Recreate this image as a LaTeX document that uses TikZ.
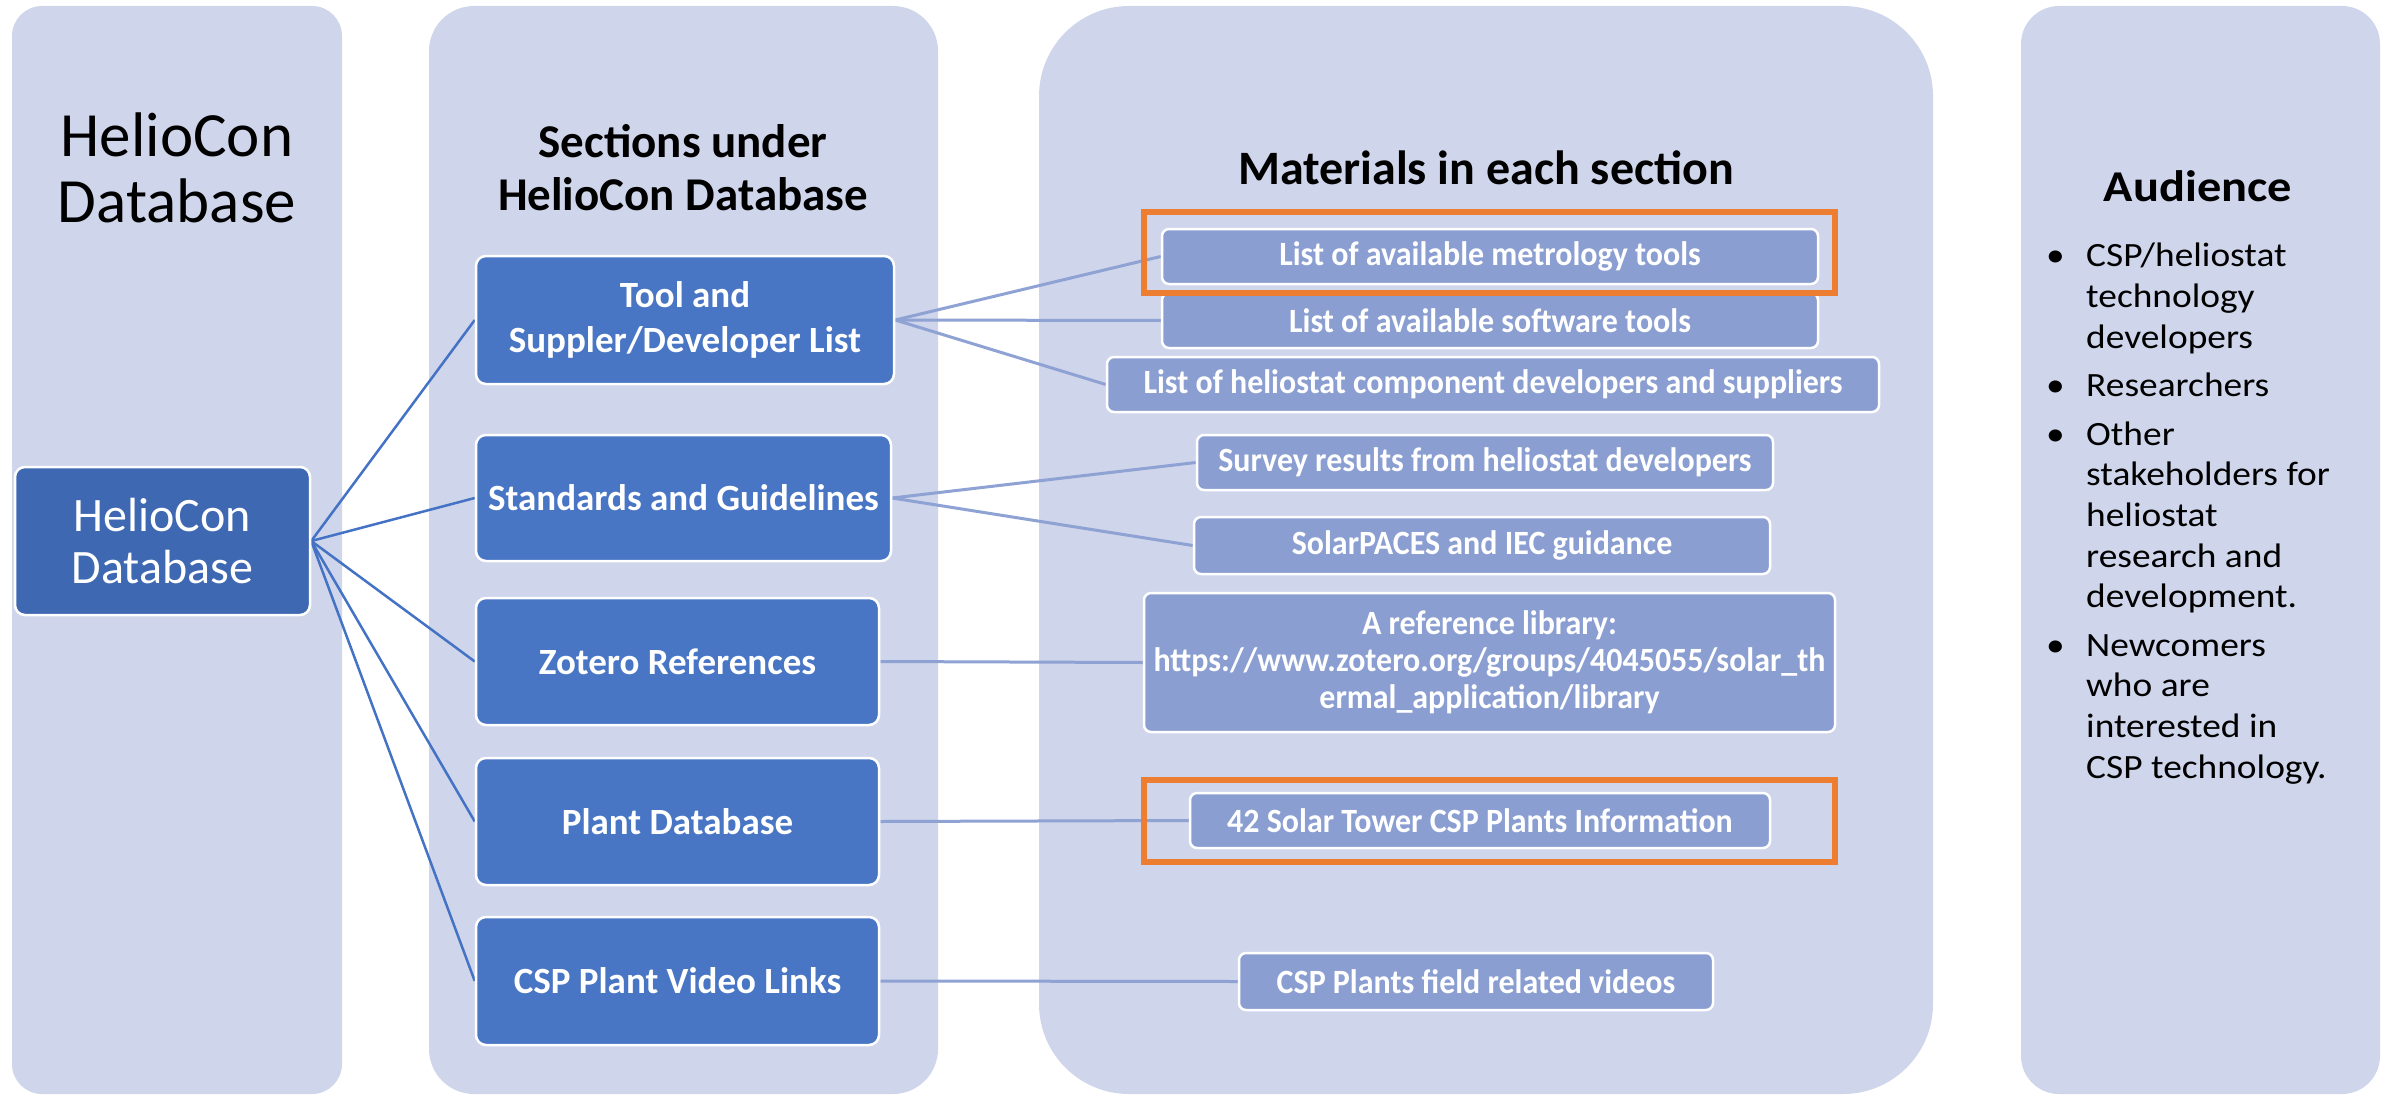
\documentclass[tikz,border=0pt]{standalone}
\usepackage{fontspec}
\setmainfont{Carlito}
\newfontfamily\narrowfont[FakeStretch=0.94]{Carlito}
\newfontfamily\widefont[FakeStretch=1.1]{Carlito}
\definecolor{panelbg}{RGB}{207,213,234}
\definecolor{secblue}{RGB}{72,117,196}
\definecolor{hcblue}{RGB}{62,104,178}
\definecolor{matblue}{RGB}{138,158,209}
\definecolor{linedark}{RGB}{68,114,196}
\definecolor{linelight}{RGB}{143,162,212}
\definecolor{hlorange}{RGB}{237,125,49}
\pgfdeclarelayer{panels}
\pgfdeclarelayer{conn}
\pgfsetlayers{panels,conn,main}
\begin{document}
\begin{tikzpicture}[x=1pt,y=-1pt,
  panel/.style={fill=panelbg, draw=none},
  secbox/.style={draw=white, line width=2.5pt, fill=secblue, rounded corners=10pt,
    text=white, align=center, inner sep=0pt,
    font=\bfseries\fontsize{37}{45}\selectfont},
  hcbox/.style={draw=white, line width=2.5pt, fill=hcblue, rounded corners=10pt,
    text=white, align=center, inner sep=0pt,
    font=\fontsize{48}{52}\selectfont},
  matbox/.style={draw=white, line width=2.5pt, fill=matblue, rounded corners=7pt,
    text=white, align=center, inner sep=0pt,
    font=\narrowfont\bfseries\fontsize{34}{37}\selectfont},
  hlbox/.style={draw=hlorange, line width=6pt, fill=none},
  dline/.style={draw=linedark, line width=2.5pt},
  lline/.style={draw=linelight, line width=3pt},
  ttl/.style={align=center, inner sep=0pt, text=black}
]
\useasboundingbox (0,0) rectangle (2392,1097);

% panels
\begin{pgfonlayer}{panels}
\fill[panel, rounded corners=30pt] (12,6) rectangle (342,1094);
\fill[panel, rounded corners=45pt] (429,6) rectangle (938,1094);
\fill[panel, rounded corners=90pt] (1039,6) rectangle (1933,1094);
\fill[panel, rounded corners=38pt] (2021,6) rectangle (2380,1094);
\end{pgfonlayer}

% titles
\node[ttl, font=\fontsize{63}{66}\selectfont] (t1) at (177,168) {HelioCon\\Database};
\node[ttl, font=\bfseries\fontsize{47}{53}\selectfont] (t2) at (683,168) {Sections under\\HelioCon Database};
\node[ttl, font=\bfseries\fontsize{48}{52}\selectfont] (t3) at (1486,168) {Materials in each section};
\node[ttl, font=\widefont\bfseries\fontsize{44}{48}\selectfont] (t4) at (2198,186) {Audience};

% audience list
\node[anchor=north west, align=left, inner sep=0pt, font=\widefont\fontsize{34}{40.6}\selectfont] (aud) at (2046,243)
{\makebox[40pt][l]{•}CSP/heliostat\\
 \makebox[40pt][l]{}technology\\
 \makebox[40pt][l]{}developers\\[8pt]
 \makebox[40pt][l]{•}Researchers\\[8pt]
 \makebox[40pt][l]{•}Other\\
 \makebox[40pt][l]{}stakeholders for\\
 \makebox[40pt][l]{}heliostat\\
 \makebox[40pt][l]{}research and\\
 \makebox[40pt][l]{}development.\\[8pt]
 \makebox[40pt][l]{•}Newcomers\\
 \makebox[40pt][l]{}who are\\
 \makebox[40pt][l]{}interested in\\
 \makebox[40pt][l]{}CSP technology.};

% root box
\node[hcbox, minimum width=295pt, minimum height=148pt] (root) at (162.5,541) {HelioCon\\Database};

% section boxes
\node[secbox, minimum width=418pt, minimum height=128pt] (tool) at (685,320) {Tool and\\Suppler/Developer List};
\node[secbox, minimum width=415pt, minimum height=126pt] (std) at (683.5,498) {Standards and Guidelines};
\node[secbox, minimum width=403pt, minimum height=127pt] (zot) at (677.5,661.5) {Zotero References};
\node[secbox, minimum width=403pt, minimum height=127pt] (plant) at (677.5,821.5) {Plant Database};
\node[secbox, minimum width=403pt, minimum height=128pt] (video) at (677.5,981) {CSP Plant Video Links};

% material boxes
\node[matbox, minimum width=656pt, minimum height=55pt] (metro) at (1490,256.5) {List of available metrology tools};
\node[matbox, minimum width=656pt, minimum height=55pt] (soft) at (1490,320.5) {List of available software tools};
\node[matbox, minimum width=772pt, minimum height=55pt] (comp) at (1493,384.5) {List of heliostat component developers and suppliers};
\node[matbox, minimum width=576pt, minimum height=55pt] (survey) at (1485,462.5) {Survey results from heliostat developers};
\node[matbox, minimum width=576pt, minimum height=57pt] (iec) at (1482,545.5) {SolarPACES and IEC guidance};
\node[matbox, minimum width=691pt, minimum height=139pt] (lib) at (1489.5,662.5) {A reference library:\\https://www.zotero.org/groups/4045055/solar\_th\\ermal\_application/library};
\node[matbox, minimum width=580pt, minimum height=55pt] (tower) at (1480,820.5) {42 Solar Tower CSP Plants Information};
\node[matbox, minimum width=474pt, minimum height=57pt] (vids) at (1476,981.5) {CSP Plants field related videos};

% highlight frames
\node[hlbox, minimum width=691pt, minimum height=81pt, inner sep=0pt] (hl1) at (1489.5,252.5) {};
\node[hlbox, minimum width=691pt, minimum height=82pt, inner sep=0pt] (hl2) at (1489.5,821) {};

% connectors
\begin{pgfonlayer}{conn}
\draw[dline] (root.east) -- (tool.west);
\draw[dline] (root.east) -- (std.west);
\draw[dline] (root.east) -- (zot.west);
\draw[dline] (root.east) -- (plant.west);
\draw[dline] (root.east) -- (video.west);
\draw[lline] (tool.east) -- (metro.west);
\draw[lline] (tool.east) -- (soft.west);
\draw[lline] (tool.east) -- (comp.west);
\draw[lline] (std.east) -- (survey.west);
\draw[lline] (std.east) -- (iec.west);
\draw[lline] (zot.east) -- (lib.west);
\draw[lline] (plant.east) -- (tower.west);
\draw[lline] (video.east) -- (vids.west);
\end{pgfonlayer}
\end{tikzpicture}
\end{document}
